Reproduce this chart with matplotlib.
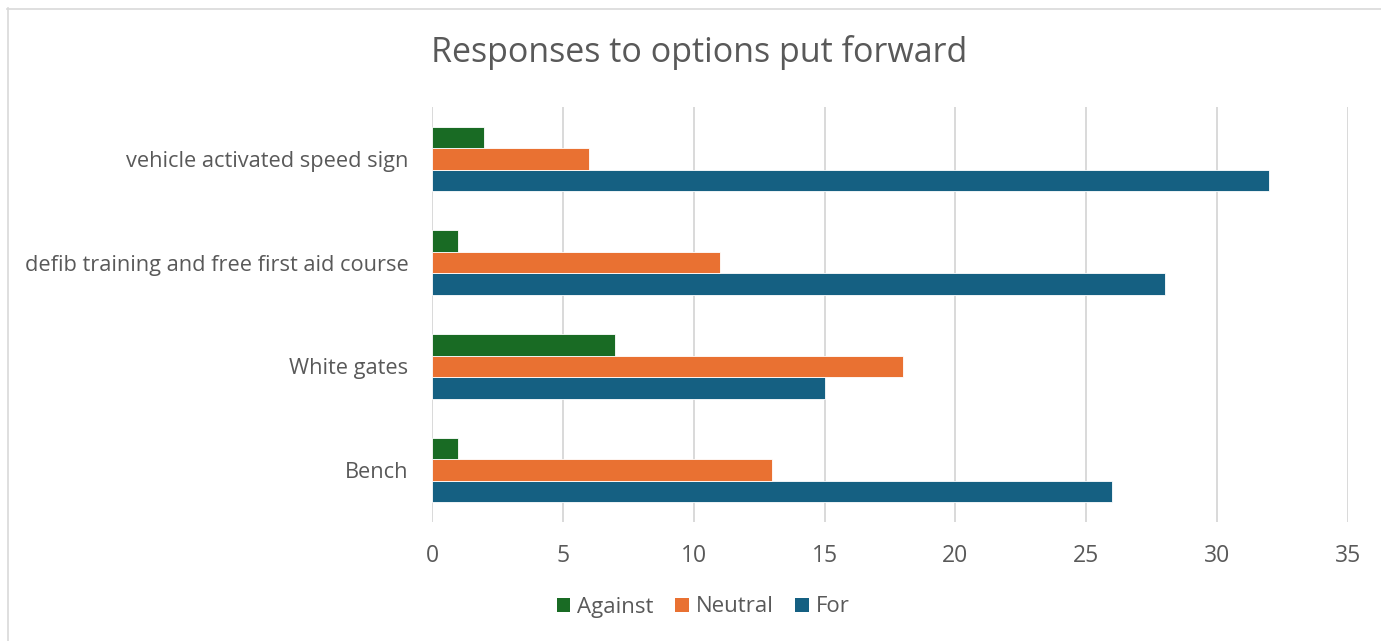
import numpy as np
import matplotlib
matplotlib.use('Agg')
import matplotlib.pyplot as plt
from matplotlib.patches import Patch
from matplotlib.lines import Line2D

# data
categories = ['Bench', 'White gates', 'defib training and free first aid course',
              'vehicle activated speed sign']
against = [1, 7, 1, 2]
neutral = [13, 18, 11, 6]
for_vals = [26, 15, 28, 32]
xticks = [0, 5, 10, 15, 20, 25, 30, 35]

c_against = '#196b24'
c_neutral = '#e97132'
c_for = '#156082'
txt = '#595959'

plt.rcParams['font.family'] = ['Open Sans', 'DejaVu Sans']

W, H = 1381, 641
fig = plt.figure(figsize=(W/100, H/100), dpi=100)
ax = fig.add_axes([432/W, 1-522/H, (1348-432)/W, (522-107)/H])

y = np.arange(len(categories))
h = 0.207
ax.barh(y - h, for_vals, h, color=c_for, edgecolor='white', linewidth=0.6, zorder=3)
ax.barh(y, neutral, h, color=c_neutral, edgecolor='white', linewidth=0.6, zorder=3)
ax.barh(y + h, against, h, color=c_against, edgecolor='white', linewidth=0.6, zorder=3)

ax.set_xlim(0, 35)
ax.set_ylim(-0.5, len(categories) - 0.5)
ax.set_xticks(xticks)
ax.set_yticks(y)
ax.set_yticklabels(categories)
ax.grid(axis='x', color='#d9d9d9', linewidth=1.4, zorder=0)
for s in ax.spines.values():
    s.set_visible(False)
ax.tick_params(axis='both', length=0, labelcolor=txt)
ax.tick_params(axis='y', pad=17, labelsize=15.7)
ax.tick_params(axis='x', pad=16, labelsize=16.5)

fig.text(699/W, 1-62/H, 'Responses to options put forward', ha='center', va='baseline',
         fontsize=24.5, color=txt)

handles = [Patch(facecolor=c_against), Patch(facecolor=c_neutral), Patch(facecolor=c_for)]
fig.legend(handles, ['Against', 'Neutral', 'For'], loc='center', ncol=3,
           bbox_to_anchor=(703/W, 1-607/H), frameon=False, fontsize=16,
           labelcolor=txt, handlelength=0.6, handleheight=0.6, handletextpad=0.3,
           columnspacing=1.0)

# chart area outline (top and left edges visible in the crop)
fig.add_artist(Line2D([7/W, 1], [1-8.5/H, 1-8.5/H], color='#d9d9d9', linewidth=1.2,
                      transform=fig.transFigure))
fig.add_artist(Line2D([7.5/W, 7.5/W], [0, 1-8/H], color='#d9d9d9', linewidth=1.2,
                      transform=fig.transFigure))

fig.savefig('out.png', dpi=100)
